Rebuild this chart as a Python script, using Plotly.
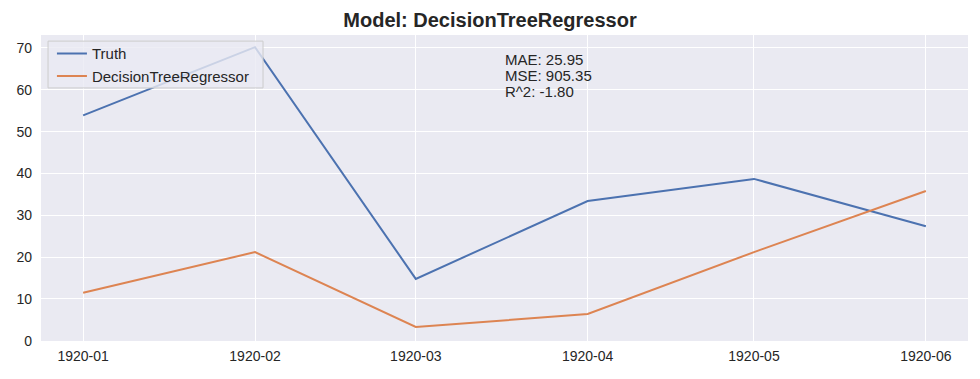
import plotly.graph_objects as go

dates = ["1920-01-01", "1920-02-01", "1920-03-01", "1920-04-01", "1920-05-01", "1920-06-01"]
tick_labels = ["1920-01", "1920-02", "1920-03", "1920-04", "1920-05", "1920-06"]
truth = [53.9, 70.2, 14.8, 33.4, 38.7, 27.4]
predicted = [11.5, 21.2, 3.3, 6.4, 21.2, 35.8]
model_name = "DecisionTreeRegressor"
metric_lines = ["MAE: 25.95", "MSE: 905.35", "R^2: -1.80"]

fig = go.Figure()
fig.add_trace(go.Scatter(x=dates, y=truth, mode="lines", name="Truth",
                         line=dict(color="#4C72B0", width=2)))
fig.add_trace(go.Scatter(x=dates, y=predicted, mode="lines", name=model_name,
                         line=dict(color="#DD8452", width=2)))

for i, txt in enumerate(metric_lines):
    fig.add_annotation(x=0.5, y=0.92 - 0.053 * i, xref="paper", yref="paper", text=txt,
                       showarrow=False, xanchor="left", yanchor="middle", align="left",
                       xshift=-1, borderpad=0, font=dict(size=15, color="#262626"))

# legend frame (matplotlib style, semi-transparent over the lines)
fig.add_shape(type="rect", xref="paper", yref="paper",
              x0=0.0076, x1=0.2395, y0=0.827, y1=0.980, layer="above",
              fillcolor="rgba(234,234,242,0.8)", line=dict(color="#CCCCCC", width=1))

font_family = "Liberation Sans, Arial, sans-serif"
# the page body adds an 8px offset; figure is sized so the plot sits where the reference has it
fig.update_layout(
    width=972, height=371,
    margin=dict(l=33, r=12, t=27, b=38),
    paper_bgcolor="white", plot_bgcolor="#EAEAF2",
    font=dict(family=font_family, size=14, color="#262626"),
    title=dict(text="<b>Model: " + model_name + "</b>", x=482 / 972, xanchor="center",
               y=1 - 11.5 / 371, yanchor="middle", font=dict(size=20, color="#262626")),
    showlegend=True,
    legend=dict(x=0.0118, y=0.993, xanchor="left", yanchor="top",
                bgcolor="rgba(0,0,0,0)", borderwidth=0,
                font=dict(size=15, color="#262626"), itemwidth=30,
                tracegroupgap=0),
    xaxis=dict(type="date", range=["1919-12-24 09:36", "1920-06-08 14:24"],
               tickvals=dates, ticktext=tick_labels, showgrid=True, automargin=False,
               gridcolor="white", gridwidth=1.2, zeroline=False, showline=False,
               ticklabelstandoff=5, tickfont=dict(size=14)),
    yaxis=dict(range=[-0.05, 73.1], tickvals=[0, 10, 20, 30, 40, 50, 60, 70],
               showgrid=True, gridcolor="white", gridwidth=1.2, zeroline=False,
               automargin=False,
               showline=False, ticklabelstandoff=8, tickfont=dict(size=14)),
)

fig.write_html("out.html")
